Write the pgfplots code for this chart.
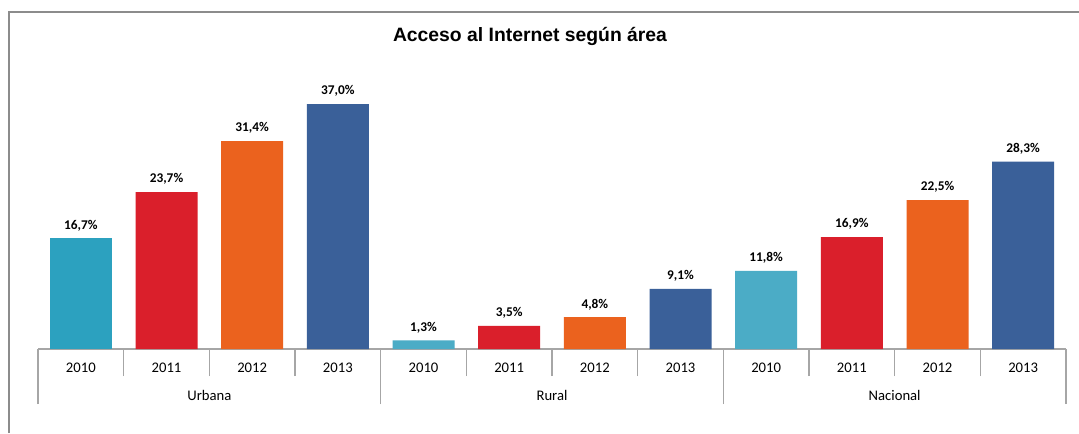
\documentclass[border=0pt]{standalone}
\usepackage{pgfplots}
\pgfplotsset{compat=1.18}
\usepackage{fontspec}
\setmainfont{Carlito}
\newfontfamily\titlefont{Liberation Sans}
\definecolor{c10}{HTML}{2CA1BF}
\definecolor{c10b}{HTML}{4BACC6}
\definecolor{c11}{HTML}{DA1F2B}
\definecolor{c12}{HTML}{EB621E}
\definecolor{c13}{HTML}{3A6099}
\definecolor{framegray}{HTML}{8C8C8C}
\definecolor{tickgray}{HTML}{A6A6A6}
\begin{document}
\begin{tikzpicture}
\useasboundingbox (0,0) rectangle (809.25pt,324.75pt);
\fill[white] (0,0) rectangle (809.25pt,324.75pt);
\draw[framegray, line width=1pt] (6.75pt,0) -- (6.75pt,315.75pt) -- (809.25pt,315.75pt);
\node[font=\titlefont\bfseries\fontsize{14.5}{16}\selectfont] at (397.5pt,297.75pt) {Acceso al Internet según área};
\begin{axis}[
  at={(28.5pt,63pt)}, anchor=south west,
  scale only axis, width=771pt, height=198.6pt,
  xmin=-0.5, xmax=11.5, ymin=0, ymax=40,
  clip=false,
  axis x line*=bottom, axis y line=none,
  x axis line style={draw=tickgray, line width=1pt},
  ybar, bar width=46.5pt, bar shift=0pt,
  xtick={0,...,11},
  xticklabels={2010,2011,2012,2013,2010,2011,2012,2013,2010,2011,2012,2013},
  major tick length=0pt,
  minor xtick={0.5,1.5,2.5,4.5,5.5,6.5,8.5,9.5,10.5},
  minor tick length=20.25pt,
  tick align=outside,
  minor tick style={draw=tickgray, line width=1pt},
  extra x ticks={-0.5,3.5,7.5,11.5},
  extra x tick labels={},
  extra x tick style={major tick length=41.25pt, tick style={draw=tickgray, line width=1pt}},
  xticklabel style={font=\fontsize{11}{13}\selectfont, anchor=center, yshift=-14.25pt},
  ytick=\empty,
  nodes near coords={\pgfmathprintnumber[fixed,zerofill,precision=1,use comma,assume math mode=true]{\pgfplotspointmeta}\%},
  every node near coord/.append style={font=\bfseries\fontsize{10}{12}\selectfont, black, yshift=2pt},
]
\addplot[fill=c10, draw=none] coordinates {(0,16.7)};
\addplot[fill=c10b, draw=none] coordinates {(4,1.3) (8,11.8)};
\addplot[fill=c11, draw=none] coordinates {(1,23.7) (5,3.5) (9,16.9)};
\addplot[fill=c12, draw=none] coordinates {(2,31.4) (6,4.8) (10,22.5)};
\addplot[fill=c13, draw=none] coordinates {(3,37.0) (7,9.1) (11,28.3)};
\node[font=\fontsize{11}{13}\selectfont] at (axis cs:1.5,0) [yshift=-34.5pt] {Urbana};
\node[font=\fontsize{11}{13}\selectfont] at (axis cs:5.5,0) [yshift=-34.5pt] {Rural};
\node[font=\fontsize{11}{13}\selectfont] at (axis cs:9.5,0) [yshift=-34.5pt] {Nacional};
\end{axis}
\end{tikzpicture}
\end{document}
